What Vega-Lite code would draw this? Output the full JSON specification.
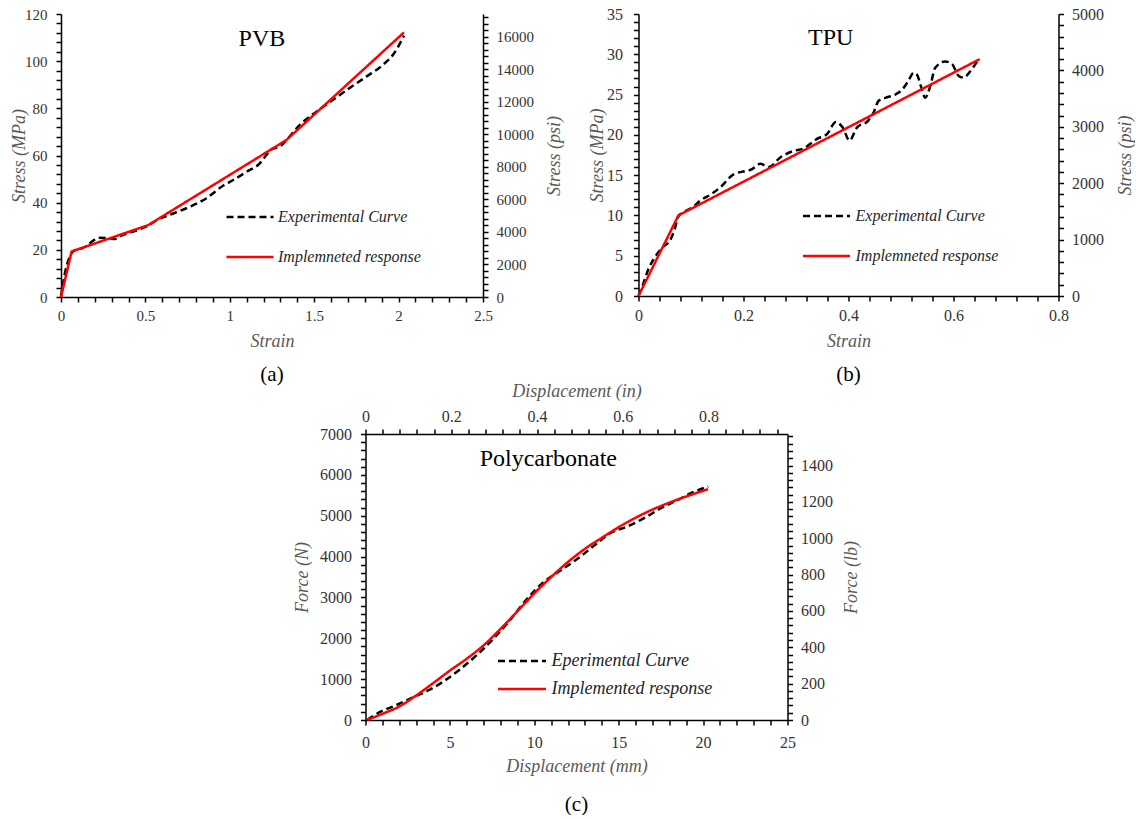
{
  "$schema": "https://vega.github.io/schema/vega-lite/v6.json",
  "padding": {"left": 10, "top": 6, "right": 0, "bottom": 0},
  "config": {
    "view": {"stroke": null},
    "font": "Liberation Serif",
    "axis": {
      "domainColor": "#000000", "domainWidth": 1.5, "ticks": true, "tickColor": "#000000", "tickOpacity": 1, "tickWidth": 1.5, "tickSize": 5,
      "labelFont": "Liberation Serif", "labelColor": "#333333",
      "titleFont": "Liberation Serif", "titleFontStyle": "italic", "titleFontWeight": "normal",
      "titleColor": "#595959", "titleFontSize": 18, "grid": false, "labelOverlap": false, "labelFlush": false
    }
  },
  "spacing": -3,
  "resolve": {"scale": {"color": "independent", "strokeDash": "independent"}},
  "vconcat": [
    {
      "spacing": 24.5,
      "resolve": {"scale": {"color": "independent", "strokeDash": "independent"}},
      "hconcat": [
        {
          "width": 422, "height": 283,
          "title": {"text": "(a)", "orient": "bottom", "anchor": "middle", "font": "Liberation Serif", "fontSize": 21, "fontWeight": "normal", "color": "#000000", "offset": 14},
          "resolve": {"axis": {"x": "independent", "y": "independent"}},
          "layer": [
            {
              "data": {"values": [
                {"strain": 0, "stress": 0, "series": "Experimental Curve"},
                {"strain": 0.026, "stress": 11, "series": "Experimental Curve"},
                {"strain": 0.055, "stress": 17.6, "series": "Experimental Curve"},
                {"strain": 0.075, "stress": 19.5, "series": "Experimental Curve"},
                {"strain": 0.104, "stress": 20.2, "series": "Experimental Curve"},
                {"strain": 0.144, "stress": 21.3, "series": "Experimental Curve"},
                {"strain": 0.193, "stress": 24, "series": "Experimental Curve"},
                {"strain": 0.222, "stress": 25.1, "series": "Experimental Curve"},
                {"strain": 0.272, "stress": 25, "series": "Experimental Curve"},
                {"strain": 0.32, "stress": 24.6, "series": "Experimental Curve"},
                {"strain": 0.36, "stress": 26.1, "series": "Experimental Curve"},
                {"strain": 0.449, "stress": 28.3, "series": "Experimental Curve"},
                {"strain": 0.518, "stress": 30.4, "series": "Experimental Curve"},
                {"strain": 0.567, "stress": 32.6, "series": "Experimental Curve"},
                {"strain": 0.665, "stress": 35.4, "series": "Experimental Curve"},
                {"strain": 0.764, "stress": 38.3, "series": "Experimental Curve"},
                {"strain": 0.862, "stress": 41.9, "series": "Experimental Curve"},
                {"strain": 0.96, "stress": 47.2, "series": "Experimental Curve"},
                {"strain": 1.02, "stress": 49.6, "series": "Experimental Curve"},
                {"strain": 1.1, "stress": 53.1, "series": "Experimental Curve"},
                {"strain": 1.178, "stress": 56.7, "series": "Experimental Curve"},
                {"strain": 1.217, "stress": 60.2, "series": "Experimental Curve"},
                {"strain": 1.247, "stress": 62.6, "series": "Experimental Curve"},
                {"strain": 1.296, "stress": 63.8, "series": "Experimental Curve"},
                {"strain": 1.336, "stress": 66.6, "series": "Experimental Curve"},
                {"strain": 1.415, "stress": 73, "series": "Experimental Curve"},
                {"strain": 1.513, "stress": 78.6, "series": "Experimental Curve"},
                {"strain": 1.612, "stress": 83.6, "series": "Experimental Curve"},
                {"strain": 1.71, "stress": 88.6, "series": "Experimental Curve"},
                {"strain": 1.81, "stress": 93.5, "series": "Experimental Curve"},
                {"strain": 1.908, "stress": 98.5, "series": "Experimental Curve"},
                {"strain": 1.967, "stress": 102.7, "series": "Experimental Curve"},
                {"strain": 2.032, "stress": 110.8, "series": "Experimental Curve"}
              ]},
              "mark": {"type": "line", "strokeWidth": 2.5, "interpolate": "monotone"},
              "encoding": {
                "x": {"field": "strain", "type": "quantitative", "scale": {"domain": [0, 2.5], "nice": false, "zero": false},
                  "axis": {"orient": "bottom", "title": "Strain", "labelFontSize": 15, "labelPadding": 6, "titlePadding": 9, "ticks": true, "tickSize": 5, "tickColor": "#000000", "tickWidth": 1.5,
                    "values": [0,0.1,0.2,0.3,0.4,0.5,0.6,0.7,0.8,0.9,1,1.1,1.2,1.3,1.4,1.5,1.6,1.7,1.8,1.9,2,2.1,2.2,2.3,2.4,2.5],
                    "labelExpr": "abs(datum.value*2 - round(datum.value*2)) < 0.001 ? format(datum.value, '~g') : ''"}},
                "y": {"field": "stress", "type": "quantitative", "scale": {"domain": [0, 120], "nice": false},
                  "axis": {"orient": "left", "title": "Stress (MPa)", "labelFontSize": 15, "labelPadding": 9, "titlePadding": -4, "ticks": true, "tickSize": 5, "tickColor": "#000000", "tickWidth": 1.5,
                    "values": [0,4,8,12,16,20,24,28,32,36,40,44,48,52,56,60,64,68,72,76,80,84,88,92,96,100,104,108,112,116,120],
                    "labelExpr": "datum.value % 20 == 0 ? format(datum.value, 'd') : ''"}},
                "color": {"field": "series", "type": "nominal", "scale": {"domain": ["Experimental Curve", "Implemneted response"], "range": ["#000000", "#FF0000"]},
                  "legend": {"orient": "none", "legendX": 164, "legendY": 195, "title": null, "symbolType": "stroke", "symbolSize": 2209, "symbolStrokeWidth": 2.5, "labelFont": "Liberation Serif", "labelFontStyle": "italic", "labelFontSize": 16, "labelColor": "#262626", "rowPadding": 24, "labelOffset": 3, "clipHeight": 16, "padding": 0, "labelLimit": 400}},
                "strokeDash": {"field": "series", "type": "nominal", "scale": {"domain": ["Experimental Curve", "Implemneted response"], "range": [[7, 4], [1, 0]]},
                  "legend": {"orient": "none", "legendX": 164, "legendY": 195, "title": null, "symbolType": "stroke", "symbolSize": 2209, "symbolStrokeWidth": 2.5, "labelFont": "Liberation Serif", "labelFontStyle": "italic", "labelFontSize": 16, "labelColor": "#262626", "rowPadding": 24, "labelOffset": 3, "clipHeight": 16, "padding": 0, "labelLimit": 400}}
              }
            },
            {
              "data": {"values": [
                {"strain": 0, "stress": 0, "series": "Implemneted response"},
                {"strain": 0.063, "stress": 19.3, "series": "Implemneted response"},
                {"strain": 0.517, "stress": 30.5, "series": "Implemneted response"},
                {"strain": 1.336, "stress": 66.6, "series": "Implemneted response"},
                {"strain": 2.032, "stress": 112.2, "series": "Implemneted response"}
              ]},
              "mark": {"type": "line", "strokeWidth": 2.5},
              "encoding": {
                "x": {"field": "strain", "type": "quantitative", "scale": {"domain": [0, 2.5], "nice": false, "zero": false}, "axis": null},
                "y": {"field": "stress", "type": "quantitative", "scale": {"domain": [0, 120], "nice": false},
                  "axis": {"orient": "right", "title": "Stress (psi)", "titleAngle": 270, "titleBaseline": "top", "labelFontSize": 15, "labelPadding": 8, "titlePadding": 12, "ticks": true, "tickSize": 5, "tickColor": "#000000", "tickWidth": 1.5,
                    "values": [0,2.7579,5.5158,8.2737,11.0316,13.7895,16.5474,19.3053,22.0632,24.8211,27.579,30.3369,33.0948,35.8527,38.6106,41.3685,44.1264,46.8844,49.6423,52.4002,55.1581,57.916,60.6739,63.4318,66.1897,68.9476,71.7055,74.4634,77.2213,79.9792,82.7371,85.495,88.2529,91.0108,93.7687,96.5266,99.2845,102.0424,104.8003,107.5582,110.3161,113.074,115.8319,118.5898],
                    "labelExpr": "round(datum.value*145.0377) % 2000 == 0 ? format(round(datum.value*145.0377), 'd') : ''"}},
                "color": {"field": "series", "type": "nominal", "scale": {"domain": ["Experimental Curve", "Implemneted response"], "range": ["#000000", "#FF0000"]},
                  "legend": {"orient": "none", "legendX": 164, "legendY": 195, "title": null, "symbolType": "stroke", "symbolSize": 2209, "symbolStrokeWidth": 2.5, "labelFont": "Liberation Serif", "labelFontStyle": "italic", "labelFontSize": 16, "labelColor": "#262626", "rowPadding": 24, "labelOffset": 3, "clipHeight": 16, "padding": 0, "labelLimit": 400}},
                "strokeDash": {"field": "series", "type": "nominal", "scale": {"domain": ["Experimental Curve", "Implemneted response"], "range": [[7, 4], [1, 0]]},
                  "legend": {"orient": "none", "legendX": 164, "legendY": 195, "title": null, "symbolType": "stroke", "symbolSize": 2209, "symbolStrokeWidth": 2.5, "labelFont": "Liberation Serif", "labelFontStyle": "italic", "labelFontSize": 16, "labelColor": "#262626", "rowPadding": 24, "labelOffset": 3, "clipHeight": 16, "padding": 0, "labelLimit": 400}}
              }
            },
            {
              "data": {"values": [{"strain": 1.19, "stress": 109.3, "label": "PVB"}]},
              "mark": {"type": "text", "font": "Liberation Serif", "fontSize": 24, "color": "#000000"},
              "encoding": {
                "x": {"field": "strain", "type": "quantitative", "axis": null},
                "y": {"field": "stress", "type": "quantitative", "axis": null},
                "text": {"field": "label"}
              }
            }
          ]
        },
        {
          "width": 420, "height": 282,
          "title": {"text": "(b)", "orient": "bottom", "anchor": "middle", "font": "Liberation Serif", "fontSize": 21, "fontWeight": "normal", "color": "#000000", "offset": 14},
          "resolve": {"axis": {"x": "independent", "y": "independent"}},
          "layer": [
            {
              "data": {"values": [
                {"strain": 0, "stress": 0, "series": "Experimental Curve"},
                {"strain": 0.008, "stress": 1.3, "series": "Experimental Curve"},
                {"strain": 0.018, "stress": 3.2, "series": "Experimental Curve"},
                {"strain": 0.031, "stress": 4.8, "series": "Experimental Curve"},
                {"strain": 0.047, "stress": 6.1, "series": "Experimental Curve"},
                {"strain": 0.06, "stress": 6.9, "series": "Experimental Curve"},
                {"strain": 0.069, "stress": 8.3, "series": "Experimental Curve"},
                {"strain": 0.076, "stress": 9.9, "series": "Experimental Curve"},
                {"strain": 0.086, "stress": 10.4, "series": "Experimental Curve"},
                {"strain": 0.105, "stress": 11.1, "series": "Experimental Curve"},
                {"strain": 0.117, "stress": 11.8, "series": "Experimental Curve"},
                {"strain": 0.14, "stress": 12.7, "series": "Experimental Curve"},
                {"strain": 0.156, "stress": 13.5, "series": "Experimental Curve"},
                {"strain": 0.181, "stress": 15.1, "series": "Experimental Curve"},
                {"strain": 0.203, "stress": 15.5, "series": "Experimental Curve"},
                {"strain": 0.215, "stress": 15.7, "series": "Experimental Curve"},
                {"strain": 0.232, "stress": 16.4, "series": "Experimental Curve"},
                {"strain": 0.248, "stress": 16.0, "series": "Experimental Curve"},
                {"strain": 0.27, "stress": 17.2, "series": "Experimental Curve"},
                {"strain": 0.295, "stress": 18.0, "series": "Experimental Curve"},
                {"strain": 0.314, "stress": 18.3, "series": "Experimental Curve"},
                {"strain": 0.34, "stress": 19.5, "series": "Experimental Curve"},
                {"strain": 0.359, "stress": 20.1, "series": "Experimental Curve"},
                {"strain": 0.376, "stress": 21.6, "series": "Experimental Curve"},
                {"strain": 0.389, "stress": 20.9, "series": "Experimental Curve"},
                {"strain": 0.402, "stress": 19.3, "series": "Experimental Curve"},
                {"strain": 0.416, "stress": 20.9, "series": "Experimental Curve"},
                {"strain": 0.438, "stress": 21.8, "series": "Experimental Curve"},
                {"strain": 0.448, "stress": 22.8, "series": "Experimental Curve"},
                {"strain": 0.457, "stress": 24.2, "series": "Experimental Curve"},
                {"strain": 0.47, "stress": 24.6, "series": "Experimental Curve"},
                {"strain": 0.489, "stress": 25.0, "series": "Experimental Curve"},
                {"strain": 0.502, "stress": 25.6, "series": "Experimental Curve"},
                {"strain": 0.514, "stress": 26.7, "series": "Experimental Curve"},
                {"strain": 0.524, "stress": 27.7, "series": "Experimental Curve"},
                {"strain": 0.53, "stress": 27.5, "series": "Experimental Curve"},
                {"strain": 0.54, "stress": 25.6, "series": "Experimental Curve"},
                {"strain": 0.546, "stress": 24.6, "series": "Experimental Curve"},
                {"strain": 0.556, "stress": 26.1, "series": "Experimental Curve"},
                {"strain": 0.565, "stress": 28.3, "series": "Experimental Curve"},
                {"strain": 0.584, "stress": 29.1, "series": "Experimental Curve"},
                {"strain": 0.597, "stress": 28.8, "series": "Experimental Curve"},
                {"strain": 0.61, "stress": 27.3, "series": "Experimental Curve"},
                {"strain": 0.619, "stress": 27.1, "series": "Experimental Curve"},
                {"strain": 0.632, "stress": 27.9, "series": "Experimental Curve"},
                {"strain": 0.648, "stress": 29.4, "series": "Experimental Curve"}
              ]},
              "mark": {"type": "line", "strokeWidth": 2.5, "interpolate": "monotone"},
              "encoding": {
                "x": {"field": "strain", "type": "quantitative", "scale": {"domain": [0, 0.8], "nice": false, "zero": false},
                  "axis": {"orient": "bottom", "title": "Strain", "labelFontSize": 16, "labelPadding": 6, "titlePadding": 9, "ticks": true, "tickSize": 5, "tickColor": "#000000", "tickWidth": 1.5,
                    "values": [0,0.04,0.08,0.12,0.16,0.2,0.24,0.28,0.32,0.36,0.4,0.44,0.48,0.52,0.56,0.6,0.64,0.68,0.72,0.76,0.8],
                    "labelExpr": "abs(datum.value*5 - round(datum.value*5)) < 0.001 ? format(datum.value, '~g') : ''"}},
                "y": {"field": "stress", "type": "quantitative", "scale": {"domain": [0, 35], "nice": false},
                  "axis": {"orient": "left", "title": "Stress (MPa)", "labelFontSize": 16, "labelPadding": 11, "titlePadding": 0, "ticks": true, "tickSize": 5, "tickColor": "#000000", "tickWidth": 1.5,
                    "values": [0,1,2,3,4,5,6,7,8,9,10,11,12,13,14,15,16,17,18,19,20,21,22,23,24,25,26,27,28,29,30,31,32,33,34,35],
                    "labelExpr": "datum.value % 5 == 0 ? format(datum.value, 'd') : ''"}},
                "color": {"field": "series", "type": "nominal", "scale": {"domain": ["Experimental Curve", "Implemneted response"], "range": ["#000000", "#FF0000"]},
                  "legend": {"orient": "none", "legendX": 163, "legendY": 194, "title": null, "symbolType": "stroke", "symbolSize": 2209, "symbolStrokeWidth": 2.5, "labelFont": "Liberation Serif", "labelFontStyle": "italic", "labelFontSize": 16, "labelColor": "#262626", "rowPadding": 24, "labelOffset": 4, "clipHeight": 16, "padding": 0, "labelLimit": 400}},
                "strokeDash": {"field": "series", "type": "nominal", "scale": {"domain": ["Experimental Curve", "Implemneted response"], "range": [[7, 4], [1, 0]]},
                  "legend": {"orient": "none", "legendX": 163, "legendY": 194, "title": null, "symbolType": "stroke", "symbolSize": 2209, "symbolStrokeWidth": 2.5, "labelFont": "Liberation Serif", "labelFontStyle": "italic", "labelFontSize": 16, "labelColor": "#262626", "rowPadding": 24, "labelOffset": 4, "clipHeight": 16, "padding": 0, "labelLimit": 400}}
              }
            },
            {
              "data": {"values": [
                {"strain": 0, "stress": 0, "series": "Implemneted response"},
                {"strain": 0.076, "stress": 10, "series": "Implemneted response"},
                {"strain": 0.65, "stress": 29.4, "series": "Implemneted response"}
              ]},
              "mark": {"type": "line", "strokeWidth": 2.5},
              "encoding": {
                "x": {"field": "strain", "type": "quantitative", "scale": {"domain": [0, 0.8], "nice": false, "zero": false}, "axis": null},
                "y": {"field": "stress", "type": "quantitative", "scale": {"domain": [0, 35], "nice": false},
                  "axis": {"orient": "right", "title": "Stress (psi)", "titleAngle": 270, "titleBaseline": "top", "labelFontSize": 16, "labelPadding": 8, "titlePadding": 13, "ticks": true, "tickSize": 5, "tickColor": "#000000", "tickWidth": 1.5,
                    "values": [0,1.4,2.8,4.2,5.6,7,8.4,9.8,11.2,12.6,14,15.4,16.8,18.2,19.6,21,22.4,23.8,25.2,26.6,28,29.4,30.8,32.2,33.6,35],
                    "labelExpr": "round(datum.value/1.4) % 5 == 0 ? format(round(datum.value/1.4)*200, 'd') : ''"}},
                "color": {"field": "series", "type": "nominal", "scale": {"domain": ["Experimental Curve", "Implemneted response"], "range": ["#000000", "#FF0000"]},
                  "legend": {"orient": "none", "legendX": 163, "legendY": 194, "title": null, "symbolType": "stroke", "symbolSize": 2209, "symbolStrokeWidth": 2.5, "labelFont": "Liberation Serif", "labelFontStyle": "italic", "labelFontSize": 16, "labelColor": "#262626", "rowPadding": 24, "labelOffset": 4, "clipHeight": 16, "padding": 0, "labelLimit": 400}},
                "strokeDash": {"field": "series", "type": "nominal", "scale": {"domain": ["Experimental Curve", "Implemneted response"], "range": [[7, 4], [1, 0]]},
                  "legend": {"orient": "none", "legendX": 163, "legendY": 194, "title": null, "symbolType": "stroke", "symbolSize": 2209, "symbolStrokeWidth": 2.5, "labelFont": "Liberation Serif", "labelFontStyle": "italic", "labelFontSize": 16, "labelColor": "#262626", "rowPadding": 24, "labelOffset": 4, "clipHeight": 16, "padding": 0, "labelLimit": 400}}
              }
            },
            {
              "data": {"values": [{"strain": 0.366, "stress": 32.0, "label": "TPU"}]},
              "mark": {"type": "text", "font": "Liberation Serif", "fontSize": 24, "color": "#000000"},
              "encoding": {
                "x": {"field": "strain", "type": "quantitative", "axis": null},
                "y": {"field": "stress", "type": "quantitative", "axis": null},
                "text": {"field": "label"}
              }
            }
          ]
        }
      ]
    },
    {
      "spacing": 14.5,
      "resolve": {"scale": {"color": "independent", "strokeDash": "independent"}},
      "hconcat": [
        {
          "width": 217.5, "height": 10,
          "data": {"values": [{"t": ""}]},
          "mark": {"type": "text"},
          "encoding": {"text": {"field": "t"}}
        },
        {
          "width": 422, "height": 286,
          "title": {"text": "(c)", "orient": "bottom", "anchor": "middle", "font": "Liberation Serif", "fontSize": 21, "fontWeight": "normal", "color": "#000000", "offset": 19},
          "resolve": {"axis": {"x": "independent", "y": "independent"}},
          "layer": [
            {
              "data": {"values": [
                {"disp": 0.1, "force": 0, "series": "Eperimental Curve"},
                {"disp": 0.9, "force": 204, "series": "Eperimental Curve"},
                {"disp": 1.7, "force": 343, "series": "Eperimental Curve"},
                {"disp": 2.9, "force": 571, "series": "Eperimental Curve"},
                {"disp": 3.65, "force": 710, "series": "Eperimental Curve"},
                {"disp": 4.6, "force": 939, "series": "Eperimental Curve"},
                {"disp": 5.6, "force": 1241, "series": "Eperimental Curve"},
                {"disp": 6.6, "force": 1592, "series": "Eperimental Curve"},
                {"disp": 7.6, "force": 2000, "series": "Eperimental Curve"},
                {"disp": 8.4, "force": 2367, "series": "Eperimental Curve"},
                {"disp": 8.8, "force": 2571, "series": "Eperimental Curve"},
                {"disp": 9.6, "force": 2980, "series": "Eperimental Curve"},
                {"disp": 10.6, "force": 3388, "series": "Eperimental Curve"},
                {"disp": 11.6, "force": 3673, "series": "Eperimental Curve"},
                {"disp": 12.6, "force": 3959, "series": "Eperimental Curve"},
                {"disp": 13.6, "force": 4286, "series": "Eperimental Curve"},
                {"disp": 14.5, "force": 4571, "series": "Eperimental Curve"},
                {"disp": 15.5, "force": 4735, "series": "Eperimental Curve"},
                {"disp": 16.5, "force": 4939, "series": "Eperimental Curve"},
                {"disp": 17.5, "force": 5184, "series": "Eperimental Curve"},
                {"disp": 18.5, "force": 5388, "series": "Eperimental Curve"},
                {"disp": 19.5, "force": 5592, "series": "Eperimental Curve"},
                {"disp": 20.3, "force": 5714, "series": "Eperimental Curve"}
              ]},
              "mark": {"type": "line", "strokeWidth": 2.5, "interpolate": "monotone"},
              "encoding": {
                "x": {"field": "disp", "type": "quantitative", "scale": {"domain": [0, 25], "nice": false, "zero": false},
                  "axis": {"orient": "bottom", "title": "Displacement (mm)", "labelFontSize": 16, "labelPadding": 9, "titlePadding": 7, "ticks": true, "tickSize": 5, "tickColor": "#000000", "tickWidth": 1.5,
                    "values": [0,1,2,3,4,5,6,7,8,9,10,11,12,13,14,15,16,17,18,19,20,21,22,23,24,25],
                    "labelExpr": "datum.value % 5 == 0 ? format(datum.value, 'd') : ''"}},
                "y": {"field": "force", "type": "quantitative", "scale": {"domain": [0, 7000], "nice": false},
                  "axis": {"orient": "left", "title": "Force (N)", "labelFontSize": 16, "labelPadding": 9, "titlePadding": 8, "ticks": true, "tickSize": 5, "tickColor": "#000000", "tickWidth": 1.5,
                    "values": [0,200,400,600,800,1000,1200,1400,1600,1800,2000,2200,2400,2600,2800,3000,3200,3400,3600,3800,4000,4200,4400,4600,4800,5000,5200,5400,5600,5800,6000,6200,6400,6600,6800,7000],
                    "labelExpr": "datum.value % 1000 == 0 ? format(datum.value, 'd') : ''"}},
                "color": {"field": "series", "type": "nominal", "scale": {"domain": ["Eperimental Curve", "Implemented response"], "range": ["#000000", "#FF0000"]},
                  "legend": {"orient": "none", "legendX": 131, "legendY": 218, "title": null, "symbolType": "stroke", "symbolSize": 2304, "symbolStrokeWidth": 2.5, "labelFont": "Liberation Serif", "labelFontStyle": "italic", "labelFontSize": 18, "labelColor": "#262626", "rowPadding": 10, "labelOffset": 4, "clipHeight": 18, "padding": 0, "labelLimit": 400}},
                "strokeDash": {"field": "series", "type": "nominal", "scale": {"domain": ["Eperimental Curve", "Implemented response"], "range": [[7, 4], [1, 0]]},
                  "legend": {"orient": "none", "legendX": 131, "legendY": 218, "title": null, "symbolType": "stroke", "symbolSize": 2304, "symbolStrokeWidth": 2.5, "labelFont": "Liberation Serif", "labelFontStyle": "italic", "labelFontSize": 18, "labelColor": "#262626", "rowPadding": 10, "labelOffset": 4, "clipHeight": 18, "padding": 0, "labelLimit": 400}}
              }
            },
            {
              "data": {"values": [
                {"disp": 0.1, "force": 0, "series": "Implemented response"},
                {"disp": 1, "force": 150, "series": "Implemented response"},
                {"disp": 2, "force": 330, "series": "Implemented response"},
                {"disp": 3, "force": 600, "series": "Implemented response"},
                {"disp": 4, "force": 900, "series": "Implemented response"},
                {"disp": 5, "force": 1210, "series": "Implemented response"},
                {"disp": 6, "force": 1500, "series": "Implemented response"},
                {"disp": 7, "force": 1830, "series": "Implemented response"},
                {"disp": 8, "force": 2230, "series": "Implemented response"},
                {"disp": 9, "force": 2660, "series": "Implemented response"},
                {"disp": 10, "force": 3100, "series": "Implemented response"},
                {"disp": 11, "force": 3500, "series": "Implemented response"},
                {"disp": 12, "force": 3870, "series": "Implemented response"},
                {"disp": 13, "force": 4190, "series": "Implemented response"},
                {"disp": 14, "force": 4460, "series": "Implemented response"},
                {"disp": 15, "force": 4720, "series": "Implemented response"},
                {"disp": 16, "force": 4950, "series": "Implemented response"},
                {"disp": 17, "force": 5150, "series": "Implemented response"},
                {"disp": 18, "force": 5320, "series": "Implemented response"},
                {"disp": 19, "force": 5470, "series": "Implemented response"},
                {"disp": 20, "force": 5610, "series": "Implemented response"},
                {"disp": 20.3, "force": 5650, "series": "Implemented response"}
              ]},
              "mark": {"type": "line", "strokeWidth": 2.5, "interpolate": "monotone"},
              "encoding": {
                "x": {"field": "disp", "type": "quantitative", "scale": {"domain": [0, 25], "nice": false, "zero": false}, "axis": null},
                "y": {"field": "force", "type": "quantitative", "scale": {"domain": [0, 7000], "nice": false},
                  "axis": {"orient": "right", "title": "Force (lb)", "titleAngle": 270, "titleBaseline": "top", "labelFontSize": 16, "labelPadding": 8, "titlePadding": 10, "ticks": true, "tickSize": 5, "tickColor": "#000000", "tickWidth": 1.5,
                    "values": [0,177.93,355.86,533.79,711.72,889.64,1067.57,1245.5,1423.43,1601.36,1779.29,1957.22,2135.15,2313.08,2491,2668.93,2846.86,3024.79,3202.72,3380.65,3558.58,3736.51,3914.44,4092.36,4270.29,4448.22,4626.15,4804.08,4982.01,5159.94,5337.87,5515.8,5693.72,5871.65,6049.58,6227.51,6405.44,6583.37,6761.3,6939.23],
                    "labelExpr": "round(datum.value/177.92888) % 5 == 0 ? format(round(datum.value/177.92888)*40, 'd') : ''"}},
                "color": {"field": "series", "type": "nominal", "scale": {"domain": ["Eperimental Curve", "Implemented response"], "range": ["#000000", "#FF0000"]},
                  "legend": {"orient": "none", "legendX": 131, "legendY": 218, "title": null, "symbolType": "stroke", "symbolSize": 2304, "symbolStrokeWidth": 2.5, "labelFont": "Liberation Serif", "labelFontStyle": "italic", "labelFontSize": 18, "labelColor": "#262626", "rowPadding": 10, "labelOffset": 4, "clipHeight": 18, "padding": 0, "labelLimit": 400}},
                "strokeDash": {"field": "series", "type": "nominal", "scale": {"domain": ["Eperimental Curve", "Implemented response"], "range": [[7, 4], [1, 0]]},
                  "legend": {"orient": "none", "legendX": 131, "legendY": 218, "title": null, "symbolType": "stroke", "symbolSize": 2304, "symbolStrokeWidth": 2.5, "labelFont": "Liberation Serif", "labelFontStyle": "italic", "labelFontSize": 18, "labelColor": "#262626", "rowPadding": 10, "labelOffset": 4, "clipHeight": 18, "padding": 0, "labelLimit": 400}}
              }
            },
            {
              "data": {"values": [{"disp": 10.83, "force": 6390, "label": "Polycarbonate"}]},
              "mark": {"type": "text", "font": "Liberation Serif", "fontSize": 24, "color": "#000000"},
              "encoding": {
                "x": {"field": "disp", "type": "quantitative", "scale": {"domain": [0, 25], "nice": false, "zero": false},
                  "axis": {"orient": "top", "title": "Displacement (in)", "labelFontSize": 16, "labelPadding": 5, "titlePadding": 8, "ticks": true, "tickSize": 5, "tickColor": "#000000", "tickWidth": 1.5,
                    "values": [0,1.016,2.032,3.048,4.064,5.08,6.096,7.112,8.128,9.144,10.16,11.176,12.192,13.208,14.224,15.24,16.256,17.272,18.288,19.304,20.32,21.336,22.352,23.368,24.384],
                    "labelExpr": "round(datum.value/1.016) % 5 == 0 ? format(round(datum.value/1.016)/25, '~g') : ''"}},
                "y": {"field": "force", "type": "quantitative", "axis": null},
                "text": {"field": "label"}
              }
            }
          ]
        }
      ]
    }
  ]
}
